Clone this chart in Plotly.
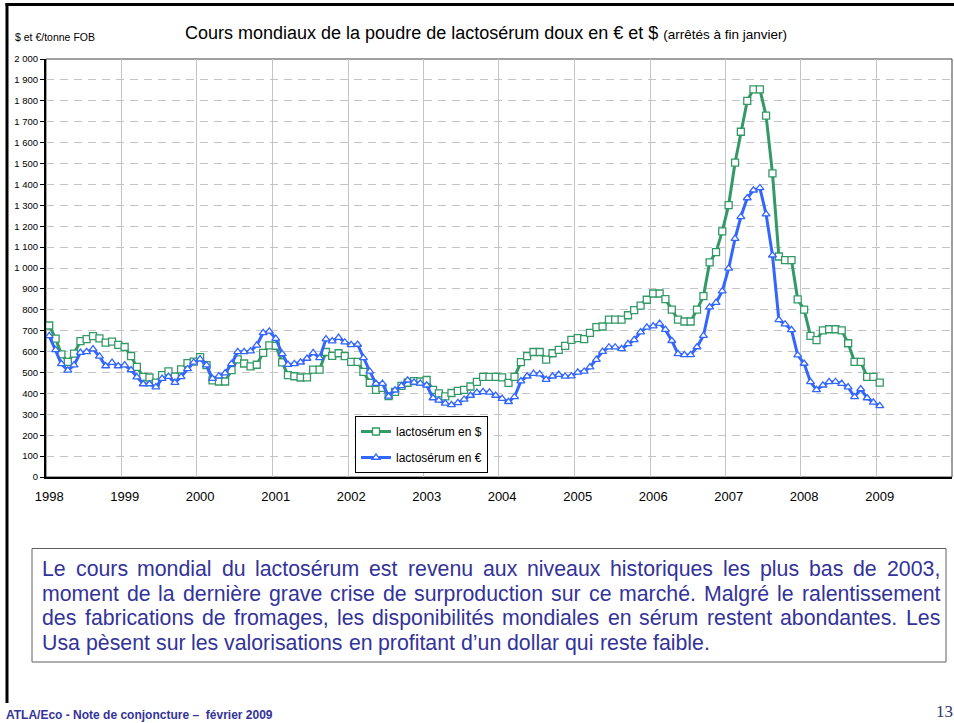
import pandas as pd
import plotly.graph_objects as go

# Monthly prices, January 1998 to January 2009
months = pd.date_range("1998-01-01", "2009-01-01", freq="MS")

usd = [725, 662, 587, 551, 590, 650, 660, 674, 663, 643, 648, 632,
       622, 578, 527, 479, 476, 452, 487, 505, 480, 515, 545, 552,
       574, 535, 462, 457, 457, 511, 563, 543, 529, 537, 594, 630,
       628, 548, 487, 482, 476, 477, 514, 514, 598, 580, 592, 578,
       551, 551, 503, 451, 417, 426, 387, 407, 436, 451, 459, 457,
       464, 417, 400, 386, 402, 412, 417, 433, 455, 479, 479, 479,
       477, 450, 479, 550, 578, 598, 598, 562, 592, 608, 627, 656,
       664, 660, 690, 717, 720, 753, 753, 753, 774, 798, 820, 848,
       878, 878, 851, 801, 753, 744, 744, 801, 865, 1027, 1076, 1175,
       1301, 1504, 1652, 1800, 1855, 1855, 1729, 1453, 1055, 1038, 1038, 850,
       801, 675, 655, 702, 707, 707, 702, 640, 551, 551, 479, 479,
       452]

eur = [675, 608, 541, 510, 535, 595, 599, 612, 577, 531, 547, 531,
       535, 512, 478, 445, 445, 430, 471, 480, 452, 479, 517, 548,
       564, 535, 471, 483, 497, 541, 599, 599, 602, 630, 690, 697,
       662, 589, 538, 541, 549, 567, 594, 570, 660, 650, 667, 645,
       632, 634, 570, 505, 447, 447, 386, 415, 436, 463, 453, 448,
       439, 378, 367, 352, 345, 355, 371, 390, 404, 407, 405, 390,
       375, 360, 383, 459, 482, 495, 492, 466, 482, 490, 481, 483,
       501, 505, 526, 562, 600, 621, 621, 613, 637, 656, 693, 716,
       722, 734, 705, 652, 589, 584, 584, 622, 676, 813, 834, 889,
       998, 1141, 1245, 1335, 1372, 1383, 1258, 1061, 752, 731, 704, 583,
       543, 455, 417, 439, 455, 456, 447, 430, 383, 421, 378, 357,
       340]

years = list(range(1998, 2010))
year_labels = [str(y) for y in years]

paragraph = [
    "Le cours mondial du lactosérum est revenu aux niveaux historiques les plus bas de 2003,",
    "moment de la dernière grave crise de surproduction sur ce marché. Malgré le ralentissement",
    "des fabrications de fromages, les disponibilités mondiales en sérum restent abondantes. Les",
    "Usa pèsent sur les valorisations en profitant d’un dollar qui reste faible.",
]

FONT = "Liberation Sans, Arial, sans-serif"
GREEN = "#339966"
BLUE = "#3366ff"
NAVY = "#333399"

# plot area in pixels
L, R, T, B = 46, 952, 59, 477


def px(x):
    return (x - L) / (R - L)


def py(y):
    return (B - y) / (B - T)


# Arial advance widths (1/1000 em), used to justify the paragraph
AW = {' ': 278, 'c': 500, 'f': 278, 'i': 222, 'j': 222, 'k': 500, 'l': 222,
      'm': 833, 'r': 333, 's': 500, 't': 278, 'v': 500, 'w': 722, 'x': 500,
      'y': 500, 'z': 500, ',': 278, '.': 278, '’': 222, 'M': 833, 'U': 722}


def text_w(s, size):
    return sum(AW.get(ch, 556) for ch in s) * size / 1000


fig = go.Figure()

fig.add_trace(go.Scatter(
    x=months, y=usd, name="lactosérum en $", mode="lines+markers",
    legendgroup="usd",
    line=dict(color=GREEN, width=3),
    marker=dict(symbol="square", size=7, color="white",
                line=dict(color=GREEN, width=1.3)),
))
fig.add_trace(go.Scatter(
    x=months, y=eur, name="lactosérum en €", mode="lines+markers",
    legendgroup="eur",
    line=dict(color=BLUE, width=3),
    marker=dict(symbol="triangle-up", size=7, color="white",
                line=dict(color=BLUE, width=1.3)),
))

shapes = [
    # top and right border of the plot area
    dict(type="rect", xref="paper", yref="paper", x0=0, x1=1, y0=0, y1=1,
         line=dict(color="#404040", width=1), layer="below"),
    # comment box
    dict(type="rect", xref="paper", yref="paper",
         x0=px(32), x1=px(946), y0=py(548.5), y1=py(662),
         line=dict(color="#606060", width=1), fillcolor="white"),
    # slide frame
    dict(type="line", xref="paper", yref="paper",
         x0=px(7), x1=px(7), y0=py(3), y1=py(703),
         line=dict(color="black", width=3)),
    dict(type="line", xref="paper", yref="paper",
         x0=px(5.5), x1=px(954), y0=py(4.5), y1=py(4.5),
         line=dict(color="black", width=3)),
]

annotations = [
    dict(text="Cours mondiaux de la poudre de lactosérum doux en € et $ "
              "<span style='font-size:13.5px'>(arrêtés à fin janvier)</span>",
         x=px(183), y=py(33), xref="paper", yref="paper",
         xanchor="left", yanchor="middle", showarrow=False,
         font=dict(size=18, color="black")),
    dict(text="$ et €/tonne FOB", x=px(13), y=py(37), xref="paper", yref="paper",
         xanchor="left", yanchor="middle", showarrow=False,
         font=dict(size=10.5, color="black")),
    dict(text="<b>ATLA/Eco - Note de conjoncture –  février 2009</b>",
         x=px(4), y=py(715), xref="paper", yref="paper",
         xanchor="left", yanchor="middle", showarrow=False,
         font=dict(size=12, color=NAVY)),
    dict(text="13", x=px(934), y=py(711), xref="paper", yref="paper",
         xanchor="left", yanchor="middle", showarrow=False,
         font=dict(size=17, color="#333366",
                   family="Liberation Serif, Times New Roman, serif")),
]

# justified paragraph: one annotation per word, last line left aligned
size = 21.3
x_left, x_right = 42, 940
line_y = [569, 593.5, 618, 642.5]
for k, line in enumerate(paragraph):
    words = line.split(" ")
    widths = [text_w(w, size) for w in words]
    if k < len(paragraph) - 1:
        gap = (x_right - x_left - sum(widths)) / (len(words) - 1)
    else:
        gap = text_w(" ", size)
    x = x_left
    for w, wd in zip(words, widths):
        annotations.append(dict(
            text=w, x=px(x), y=py(line_y[k]), xref="paper", yref="paper",
            xanchor="left", yanchor="middle", showarrow=False,
            borderpad=0, borderwidth=0,
            font=dict(size=size, color=NAVY)))
        x += wd + gap

fig.update_layout(
    width=954, height=723,
    margin=dict(l=L, r=954 - R, t=T, b=723 - B),
    paper_bgcolor="white", plot_bgcolor="white",
    separators=", ",
    font=dict(family=FONT, color="black"),
    showlegend=True,
    legend=dict(x=px(355), y=py(416), xanchor="left", yanchor="top",
                bgcolor="white", bordercolor="black", borderwidth=1,
                font=dict(size=12), traceorder="grouped", tracegroupgap=7),
    xaxis=dict(
        type="date",
        range=["1997-12-16 12:00", "2009-12-16 12:00"],
        tickmode="array",
        tickvals=[f"{y}-01-01" for y in years],
        ticktext=year_labels,
        ticks="", showgrid=False, zeroline=False,
        showline=True, linecolor="black", linewidth=2,
        tickfont=dict(size=13), ticklabelstandoff=6,
        minor=dict(tickmode="array",
                   tickvals=[f"{y - 1}-12-16 12:00" for y in years],
                   showgrid=True, gridcolor="#c4c4c4", gridwidth=1, ticks=""),
    ),
    yaxis=dict(
        range=[0, 2000], tick0=0, dtick=100, tickformat=",d",
        ticks="outside", ticklen=4, tickcolor="black",
        showline=True, linecolor="black", linewidth=2,
        showgrid=True, gridcolor="#c4c4c4", gridwidth=1, griddash="8px,6px",
        zeroline=False, tickfont=dict(size=9.5),
    ),
    shapes=shapes,
    annotations=annotations,
)

# the page has a default 8px body margin; drop it so the figure fills the window
fig.write_html("out.html", config={"displayModeBar": False},
               post_script="document.body.style.margin='0';")
